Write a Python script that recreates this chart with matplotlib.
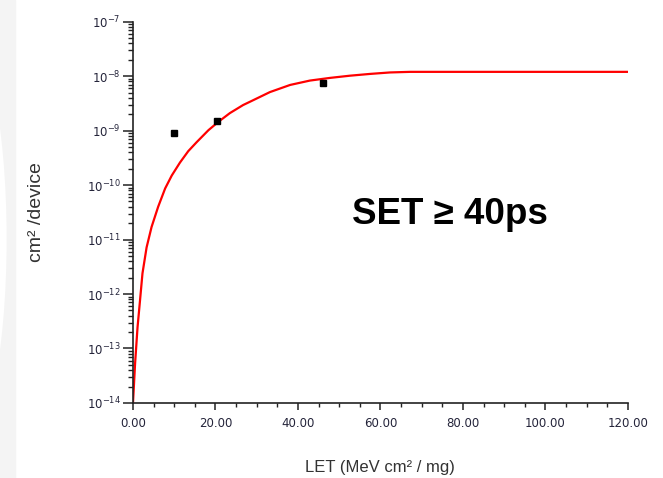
import matplotlib.pyplot as plt
from matplotlib.ticker import FixedLocator, LogLocator, NullFormatter, MultipleLocator
from matplotlib.patches import Rectangle, Ellipse

plt.rcParams['font.family'] = ['Liberation Sans', 'DejaVu Sans']
plt.rcParams['mathtext.fontset'] = 'custom'
plt.rcParams['mathtext.rm'] = 'DejaVu Sans'
plt.rcParams['mathtext.it'] = 'DejaVu Sans'

# measured data points (LET, cross-section)
let_pts = [9.9, 20.3, 46.1]
sigma_pts = [8.9e-10, 1.5e-9, 7.4e-9]

# fitted curve
let_fit = [0.0, 0.5, 1.1, 1.7, 2.3, 3.3, 4.5, 6.1, 7.8, 9.4, 11.4, 13.4,
           15.4, 18.3, 20.7, 23.5, 26.7, 28.4, 33.2, 38.1, 42.9, 47.8,
           52.6, 57.5, 62.3, 67.2, 120.0]
sigma_fit = [1.0e-14, 5.2e-14, 2.45e-13, 7.6e-13, 2.4e-12, 7.2e-12, 1.7e-11,
             4.0e-11, 8.7e-11, 1.5e-10, 2.6e-10, 4.2e-10, 6.1e-10, 1.02e-9,
             1.45e-9, 2.1e-9, 2.95e-9, 3.4e-9, 5.1e-9, 6.9e-9, 8.3e-9,
             9.3e-9, 1.02e-8, 1.10e-8, 1.17e-8, 1.2e-8, 1.2e-8]

x_ticks = [0, 20, 40, 60, 80, 100, 120]
y_ticks = [1e-14, 1e-13, 1e-12, 1e-11, 1e-10, 1e-9, 1e-8, 1e-7]
y_labels = ['$10^{-14}$', '$10^{-13}$', '$10^{-12}$', '$10^{-11}$',
            '$10^{-10}$', '$10^{-9}$', '$10^{-8}$', '$10^{-7}$']

fig = plt.figure(figsize=(6.63, 4.78), dpi=100)

# faint slide background on the left edge
fig.patches.append(Rectangle((0, 0), 0.022, 1, transform=fig.transFigure,
                             color='#f4f4f4', zorder=0))
fig.patches.append(Ellipse((-0.06, 0.5), 0.14, 0.9, transform=fig.transFigure,
                           facecolor='white', edgecolor='none', zorder=0))

ax = fig.add_axes([0.2006, 0.157, 0.7464, 0.7976])
ax.set_facecolor('none')

ax.plot(let_fit, sigma_fit, color='#ff0000', lw=1.6, zorder=2)
ax.plot(let_pts, sigma_pts, 's', color='black', ms=4.5, zorder=3)

ax.set_yscale('log')
ax.set_xlim(0, 120)
ax.set_ylim(1e-14, 1e-7)

ax.xaxis.set_major_locator(FixedLocator(x_ticks))
ax.xaxis.set_minor_locator(MultipleLocator(5))
ax.set_xticklabels([f'{v:.2f}' for v in x_ticks], family='DejaVu Sans')
ax.yaxis.set_major_locator(FixedLocator(y_ticks))
ax.set_yticklabels(y_labels)
ax.yaxis.set_minor_locator(LogLocator(base=10, subs=range(2, 10), numticks=20))
ax.yaxis.set_minor_formatter(NullFormatter())

for s in ['top', 'right']:
    ax.spines[s].set_visible(False)
for s in ['left', 'bottom']:
    ax.spines[s].set_linewidth(1.2)
    ax.spines[s].set_color('#222222')

ax.tick_params(axis='both', which='both', color='#222222', direction='out')
ax.tick_params(axis='x', which='major', length=5, width=1.1, labelsize=8.5,
               labelcolor='#24243a', pad=5)
ax.tick_params(axis='x', which='minor', length=3, width=1.0)
ax.tick_params(axis='y', which='major', length=7, width=1.1, labelsize=8.5,
               labelcolor='#24243a', pad=2)
ax.tick_params(axis='y', which='minor', length=3.5, width=1.0)

ax.set_xlabel('LET (MeV cm² / mg)', fontsize=12, color='#333333', labelpad=22)
ax.set_ylabel('cm² /device', fontsize=14, color='#333333', labelpad=30)

ax.text(0.442, 0.493, 'SET ≥ 40ps', transform=ax.transAxes, fontsize=26.5,
        fontweight='bold', color='black', ha='left', va='center')

fig.savefig('out.png', dpi=100)
